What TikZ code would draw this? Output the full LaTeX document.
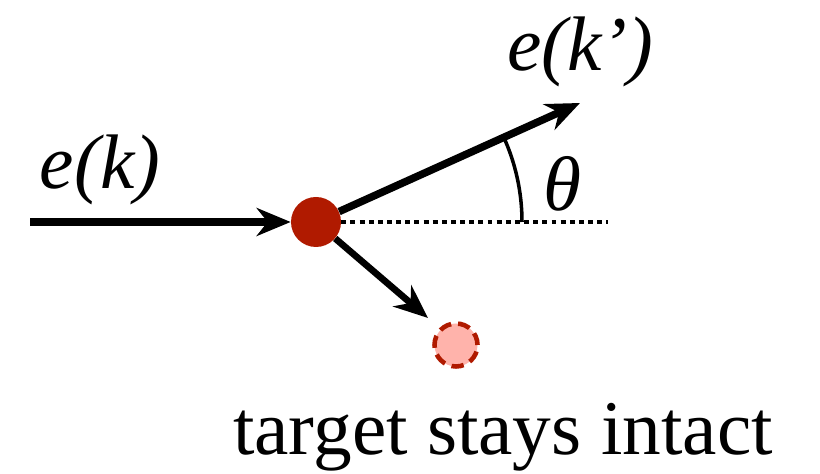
\documentclass[tikz,border=0pt]{standalone}
\usepackage{fontspec}
\setmainfont{Liberation Serif}
\usepackage{xcolor}
\usetikzlibrary{arrows.meta,positioning,calc}
\definecolor{target}{HTML}{B01A00}
\definecolor{targetlight}{HTML}{FFB3AB}
\tikzset{
  beamarrow/.style={
    -{Stealth[length=0.68cm, width=0.56cm]}, line width=4.3pt, color=black
  },
  targetdot/.style={
    circle, fill=target, draw=none, minimum size=1.0cm, inner sep=0pt
  },
  recoildot/.style={
    circle, fill=targetlight, draw=target, line width=2.6pt,
    dash pattern=on 7pt off 4pt, minimum size=0.86cm, inner sep=0pt
  },
  biglabel/.style={
    font=\fontsize{44}{50}\selectfont, inner sep=0pt
  },
}
\begin{document}
\begin{tikzpicture}
  \useasboundingbox (0,0) rectangle (16.4,9.48);

  % Target and recoiled target
  \node[targetdot] (tgt) at (6.32,5.04) {};
  \node[recoildot] (rec) at (9.12,2.58) {};

  % Beam in and out
  \coordinate (ein) at (0.6,5.04);
  \coordinate (eout) at (11.6,7.42);
  \coordinate (recoil) at (8.56,3.12);
  \coordinate (axis) at (12.16,5.04);

  \draw[beamarrow] (ein) -- (tgt);
  \draw[beamarrow] (tgt) -- (eout);
  \draw[beamarrow, line width=3.8pt] (tgt) -- (recoil);

  % Reference axis and angle
  \draw[line width=2.8pt, dash pattern=on 2.8pt off 2.4pt] (tgt.east) -- (axis);
  \draw[line width=2pt] ($(tgt.center)+(4.12,0)$) arc[start angle=0, end angle=24.3, radius=4.12];

  % Labels
  \node[biglabel] (lin) at (2.0,6.08) {\textit{e(k)}};
  \node[biglabel] (lout) at (11.6,8.44) {\textit{e(k’)}};
  \node[biglabel] (lth) at (11.25,5.8) {\textit{θ}};
  \node[biglabel] (ltxt) at (10.06,0.74) {target stays intact};
\end{tikzpicture}
\end{document}
